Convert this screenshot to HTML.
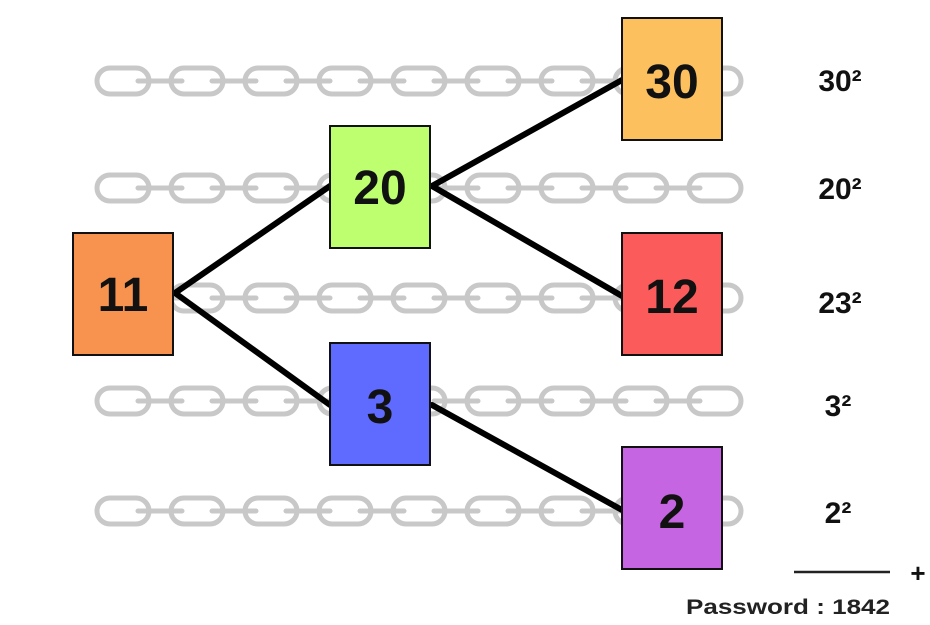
<!DOCTYPE html>
<html><head><style>
html,body{margin:0;padding:0;background:#fff;}
svg{display:block;}
text{font-family:"Liberation Sans","DejaVu Sans",sans-serif;}
</style></head><body>
<svg width="930" height="625" viewBox="0 0 930 625" xmlns="http://www.w3.org/2000/svg">
<defs>
<g id="chain" fill="none" stroke="#c8c8c8" stroke-width="5">
  <rect x="97" y="-12" width="52" height="26" rx="13"/>
  <rect x="171" y="-12" width="52" height="26" rx="13"/>
  <rect x="245" y="-12" width="52" height="26" rx="13"/>
  <rect x="319" y="-12" width="52" height="26" rx="13"/>
  <rect x="393" y="-12" width="52" height="26" rx="13"/>
  <rect x="467" y="-12" width="52" height="26" rx="13"/>
  <rect x="541" y="-12" width="52" height="26" rx="13"/>
  <rect x="615" y="-12" width="52" height="26" rx="13"/>
  <rect x="689" y="-12" width="52" height="26" rx="13"/>
  <path d="M138 1H182M212 1H256M286 1H330M360 1H404M434 1H478M508 1H552M582 1H626M656 1H700" stroke-linecap="round"/>
</g>
</defs>
<use href="#chain" y="80"/>
<use href="#chain" y="187"/>
<use href="#chain" y="297"/>
<use href="#chain" y="400"/>
<use href="#chain" y="510"/>
<g stroke="#000" stroke-width="6" stroke-linecap="round">
<line x1="175" y1="293" x2="330" y2="186"/>
<line x1="175" y1="293" x2="330" y2="405"/>
<line x1="432" y1="186" x2="622" y2="80"/>
<line x1="432" y1="186" x2="622" y2="296"/>
<line x1="432" y1="405" x2="622" y2="510"/>
</g>
<g stroke="#111" stroke-width="2">
<rect x="73" y="233" width="100" height="122" fill="#f7934f"/>
<rect x="330" y="126" width="100" height="122" fill="#bdff6e"/>
<rect x="622" y="18" width="100" height="122" fill="#fcc15e"/>
<rect x="622" y="233" width="100" height="122" fill="#fb5b5b"/>
<rect x="330" y="343" width="100" height="122" fill="#5f6bfe"/>
<rect x="622" y="447" width="100" height="122" fill="#c565e1"/>
</g>
<g font-size="48" font-weight="bold" text-anchor="middle" fill="#111">
<text x="123" y="311">11</text>
<text x="380" y="204">20</text>
<text x="672" y="98">30</text>
<text x="672" y="313">12</text>
<text x="380" y="423">3</text>
<text x="672" y="528">2</text>
</g>
<g font-size="30" font-weight="bold" fill="#111" text-anchor="middle">
<text x="840" y="91">30²</text>
<text x="840" y="199">20²</text>
<text x="840" y="313">23²</text>
<text x="838" y="416">3²</text>
<text x="838" y="523">2²</text>
</g>
<line x1="794" y1="572" x2="890" y2="572" stroke="#222" stroke-width="2.5"/>
<text x="918" y="582" font-size="26" font-weight="bold" text-anchor="middle" fill="#111">+</text>
<text x="686" y="614" font-size="21" font-weight="bold" fill="#222" textLength="204" lengthAdjust="spacingAndGlyphs">Password : 1842</text>
</svg>
</body></html>
